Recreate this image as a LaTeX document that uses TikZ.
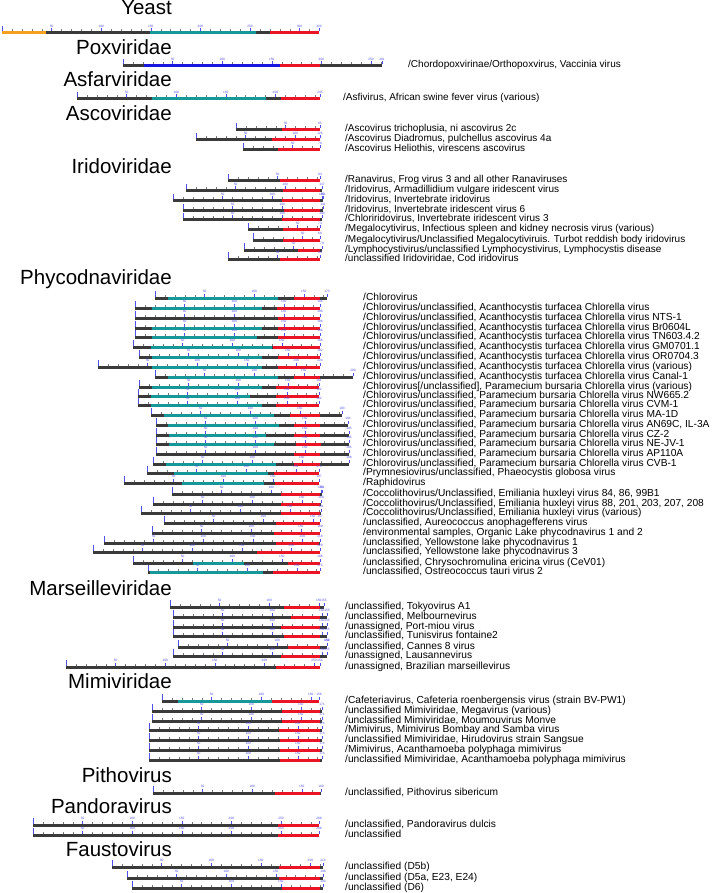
\documentclass[tikz,border=0pt]{standalone}
\usepackage{fontspec}
\setmainfont{Liberation Sans}
\usepackage{xcolor}
\usepackage{tikz}
\usetikzlibrary{positioning}
\definecolor{bardark}{RGB}{58,58,58}
\definecolor{barteal}{RGB}{22,152,152}
\definecolor{barred}{RGB}{234,20,36}
\definecolor{barblue}{RGB}{22,22,222}
\definecolor{barorange}{RGB}{245,160,30}
\definecolor{tickblue}{RGB}{80,80,235}
\definecolor{tickgray}{RGB}{120,120,120}

% one genome bar: name, y, start, end, coloured parts, label
\newcommand{\labx}{345}
\newcommand{\labfs}{10}
\newcommand{\genome}[6]{%
  \draw[seg, bardark] (#3,#2) -- (#4,#2);
  \foreach \sa/\sb/\sc in {#5} {\draw[seg, \sc] (\sa,#2) -- (\sb,#2);}
  \pgfmathtruncatemacro\nt{(#4-#3)/9.92}
  \foreach \k in {1,...,\nt} {
    \pgfmathsetmacro\xt{#3+\k*9.92}
    \pgfmathtruncatemacro\m{mod(\k,5)}
    \ifnum\m=0
      \pgfmathtruncatemacro\v{\k*10}
      \draw[major] (\xt,#2-1.5) -- ++(0,-3) node[num] {\v};
    \else
      \draw[minor] (\xt,#2-1.5) -- ++(0,-2);
    \fi
  }
  \pgfmathtruncatemacro\len{round((#4-#3)/0.992)}
  \draw[major] (#3,#2-1.5) -- ++(0,-5.5);
  \draw[major] (#4,#2-1.5) -- ++(0,-3) node[num] {\len};
  \node[lbl] (#1) at (\labx,#2+2) {#6};
}

\begin{document}
\begin{tikzpicture}[
  x=1pt, y=-1pt,
  seg/.style={line width=3pt},
  minor/.style={draw=tickgray, line width=0.35pt},
  major/.style={draw=tickblue, line width=0.45pt},
  num/.style={anchor=south, inner sep=0.3pt, text=tickblue,
              font=\fontsize{3.2}{3.5}\selectfont},
  fam/.style={anchor=base east, inner sep=0pt, font=\fontsize{20.5}{24}\selectfont},
  lbl/.style={anchor=base west, inner sep=0pt, font=\fontsize{\labfs}{12}\selectfont}
]
\useasboundingbox (0,0) rectangle (720,893);

\node[fam] (yeast) at (172,15) {Yeast};
\genome{yeastbar}{33}{2}{319}{2/46/barorange, 150/256/barteal, 270/319/barred}{}

\node[fam] (pox) at (172,55) {Poxviridae};
\renewcommand{\labx}{408}
\genome{vaccinia}{66}{123}{382}{144/280/barblue, 280/320/barred}{/Chordopoxvirinae/Orthopoxvirus, Vaccinia virus}

\node[fam] (asfar) at (172,87) {Asfarviridae};
\renewcommand{\labx}{343}
\genome{asfv}{99}{77}{320}{152/266/barteal, 281/320/barred}{/Asfivirus, African swine fever virus (various)}

\node[fam] (asco) at (172,121) {Ascoviridae};
\renewcommand{\labx}{345}
\genome{as1}{130}{236}{320}{282/320/barred}{/Ascovirus trichoplusia, ni ascovirus 2c}
\genome{as2}{140}{196}{320}{272/320/barred}{/Ascovirus Diadromus, pulchellus ascovirus 4a}
\genome{as3}{150}{243}{320}{278/320/barred}{/Ascovirus Heliothis, virescens ascovirus}

\node[fam] (irido) at (172,174) {Iridoviridae};
\genome{ir1}{181}{228}{320}{280/320/barred}{/Ranavirus, Frog virus 3 and all other Ranaviruses}
\genome{ir2}{191}{186}{322}{283/320/barred}{/Iridovirus, Armadillidium vulgare iridescent virus}
\genome{ir3}{201}{173}{323}{282/320/barred}{/Iridovirus, Invertebrate iridovirus}
\genome{ir4}{211}{183}{323}{284/320/barred}{/Iridovirus, Invertebrate iridescent virus 6}
\genome{ir5}{220}{183}{322}{282/320/barred}{/Chloriridovirus, Invertebrate iridescent virus 3}
\genome{ir6}{230}{248}{320}{283/320/barred}{/Megalocytivirus, Infectious spleen and kidney necrosis virus (various)}
\genome{ir7}{240}{253}{320}{283/320/barred}{/Megalocytivirus/Unclassified Megalocytiviruis. Turbot reddish body iridovirus}
\genome{ir8}{250}{244}{322}{298/320/barred}{/Lymphocystivirus/unclassified Lymphocystivirus, Lymphocystis disease}
\genome{ir9}{259}{228}{320}{280/320/barred}{/unclassified Iridoviridae, Cod iridovirus}

\node[fam] (phyco) at (172,284) {Phycodnaviridae};
\renewcommand{\labx}{363}
\renewcommand{\labfs}{10.2}
\genome{ph0}{298}{155}{327}{168/278/barteal, 294/320/barred}{/Chlorovirus}
\genome{ph1}{308}{135}{320}{152/262/barteal, 277/320/barred}{/Chlorovirus/unclassified, Acanthocystis turfacea Chlorella virus}
\genome{ph2}{318}{135}{320}{278/320/barred}{/Chlorovirus/unclassified, Acanthocystis turfacea Chlorella virus NTS-1}
\genome{ph3}{328}{135}{320}{152/262/barteal, 278/320/barred}{/Chlorovirus/unclassified, Acanthocystis turfacea Chlorella virus Br0604L}
\genome{ph4}{337}{135}{320}{152/257/barteal, 278/320/barred}{/Chlorovirus/unclassified, Acanthocystis turfacea Chlorella virus TN603.4.2}
\genome{ph5}{347}{133}{320}{151/272/barteal, 273/320/barred}{/Chlorovirus/unclassified, Acanthocystis turfacea Chlorella virus GM0701.1}
\genome{ph6}{357}{139}{320}{152/262/barteal, 278/320/barred}{/Chlorovirus/unclassified, Acanthocystis turfacea Chlorella virus OR0704.3}
\genome{ph7}{367}{98}{320}{152/262/barteal, 278/320/barred}{/Chlorovirus/unclassified, Acanthocystis turfacea Chlorella virus (various)}
\genome{ph8}{377}{155}{353}{168/278/barteal, 294/320/barred}{/Chlorovirus/unclassified, Acanthocystis turfacea Chlorella virus Canal-1}
\genome{ph9}{387}{139}{319}{152/262/barteal, 276/319/barred}{/Chlorovirus[/unclassified], Paramecium bursaria Chlorella virus (various)}
\genome{ph10}{396}{138}{319}{151/250/barteal, 276/319/barred}{/Chlorovirus/unclassified, Paramecium bursaria Chlorella virus NW665.2}
\genome{ph11}{405}{138}{319}{151/262/barteal, 276/319/barred}{/Chlorovirus/unclassified, Paramecium bursaria Chlorella virus CVM-1}
\genome{ph12}{415}{151}{342}{164/274/barteal, 290/320/barred}{/Chlorovirus/unclassified, Paramecium bursaria Chlorella virus MA-1D}
\genome{ph13}{425}{156}{348}{168/279/barteal, 294/320/barred}{/Chlorovirus/unclassified, Paramecium bursaria Chlorella virus AN69C, IL-3A}
\genome{ph14}{435}{156}{349}{169/266/barteal, 294/320/barred}{/Chlorovirus/unclassified, Paramecium bursaria Chlorella virus CZ-2}
\genome{ph15}{444}{156}{349}{169/274/barteal, 296/321/barred}{/Chlorovirus/unclassified, Paramecium bursaria Chlorella virus NE-JV-1}
\genome{ph16}{454}{156}{349}{294/320/barred}{/Chlorovirus/unclassified, Paramecium bursaria Chlorella virus AP110A}
\genome{ph17}{464}{153}{349}{166/276/barteal, 294/320/barred}{/Chlorovirus/unclassified, Paramecium bursaria Chlorella virus CVB-1}
\genome{ph18}{473}{147}{319}{174/268/barteal, 274/319/barred}{/Prymnesiovirus/unclassified, Phaeocystis globosa virus}
\genome{ph19}{483}{124}{319}{182/264/barteal, 275/319/barred}{/Raphidovirus}
\genome{ph20}{494}{172}{322}{281/320/barred}{/Coccolithovirus/Unclassified, Emiliania huxleyi virus 84, 86, 99B1}
\genome{ph21}{504}{153}{321}{281/320/barred}{/Coccolithovirus/Unclassified, Emiliania huxleyi virus 88, 201, 203, 207, 208}
\genome{ph22}{513}{141}{321}{281/320/barred}{/Coccolithovirus/Unclassified, Emiliania huxleyi virus (various)}
\genome{ph23}{523}{164}{320}{276/320/barred}{/unclassified, Aureococcus anophagefferens virus}
\genome{ph24}{533}{152}{320}{274/320/barred}{/environmental samples, Organic Lake phycodnavirus 1 and 2}
\genome{ph25}{543}{104}{320}{276/319/barred}{/unclassified, Yellowstone lake phycodnavirus 1}
\genome{ph26}{552}{93}{320}{257/320/barred}{/unclassified, Yellowstone lake phycodnavirus 3}
\genome{ph27}{563}{133}{320}{193/244/barteal, 288/320/barred}{/unclassified, Chrysochromulina ericina virus (CeV01)}
\genome{ph28}{572}{148}{320}{150/263/barteal, 273/320/barred}{/unclassified, Ostreococcus tauri virus 2}

\node[fam] (marseille) at (172,595) {Marseilleviridae};
\renewcommand{\labx}{345}
\genome{ma1}{607}{170}{324}{284/320/barred}{/unclassified, Tokyovirus A1}
\genome{ma2}{617}{173}{327}{291/320/barred}{/unclassified, Melbournevirus}
\genome{ma3}{627}{173}{327}{281/320/barred}{/unassigned, Port-miou virus}
\genome{ma4}{636}{173}{327}{284/320/barred}{/unclassified, Tunisvirus fontaine2}
\genome{ma5}{647}{178}{327}{288/320/barred}{/unclassified, Cannes 8 virus}
\genome{ma6}{656}{173}{327}{281/320/barred}{/unassigned, Lausannevirus}
\genome{ma7}{667}{66}{320}{276/320/barred}{/unassigned, Brazilian marseillevirus}

\node[fam] (mimi) at (172,688) {Mimiviridae};
\genome{mi1}{701}{162}{319}{178/272/barteal, 272/319/barred}{/Cafeteriavirus, Cafeteria roenbergensis virus (strain BV-PW1)}
\genome{mi2}{711}{152}{322}{282/320/barred}{/unclassified Mimiviridae, Megavirus (various)}
\genome{mi3}{721}{152}{322}{282/320/barred}{/unclassified Mimiviridae, Moumouvirus Monve}
\genome{mi4}{730}{149}{322}{279/320/barred}{/Mimivirus, Mimivirus Bombay and Samba virus}
\genome{mi5}{740}{149}{322}{280/320/barred}{/unclassified Mimiviridae, Hirudovirus strain Sangsue}
\genome{mi6}{750}{149}{322}{280/320/barred}{/Mimivirus, Acanthamoeba polyphaga mimivirus}
\genome{mi7}{760}{149}{322}{280/320/barred}{/unclassified Mimiviridae, Acanthamoeba polyphaga mimivirus}

\node[fam] (pitho) at (172,782) {Pithovirus};
\genome{pi1}{793}{153}{321}{275/320/barred}{/unclassified, Pithovirus sibericum}

\node[fam] (pandora) at (172,813) {Pandoravirus};
\genome{pa1}{825}{33}{319}{278/319/barred}{/unclassified, Pandoravirus dulcis}
\genome{pa2}{835}{33}{319}{278/319/barred}{/unclassified}

\node[fam] (fausto) at (172,856) {Faustovirus};
\genome{fa1}{867}{112}{323}{279/320/barred}{/unclassified (D5b)}
\genome{fa2}{878}{127}{323}{279/320/barred}{/unclassified (D5a, E23, E24)}
\genome{fa3}{888}{132}{323}{282/320/barred}{/unclassified (D6)}
\end{tikzpicture}
\end{document}
